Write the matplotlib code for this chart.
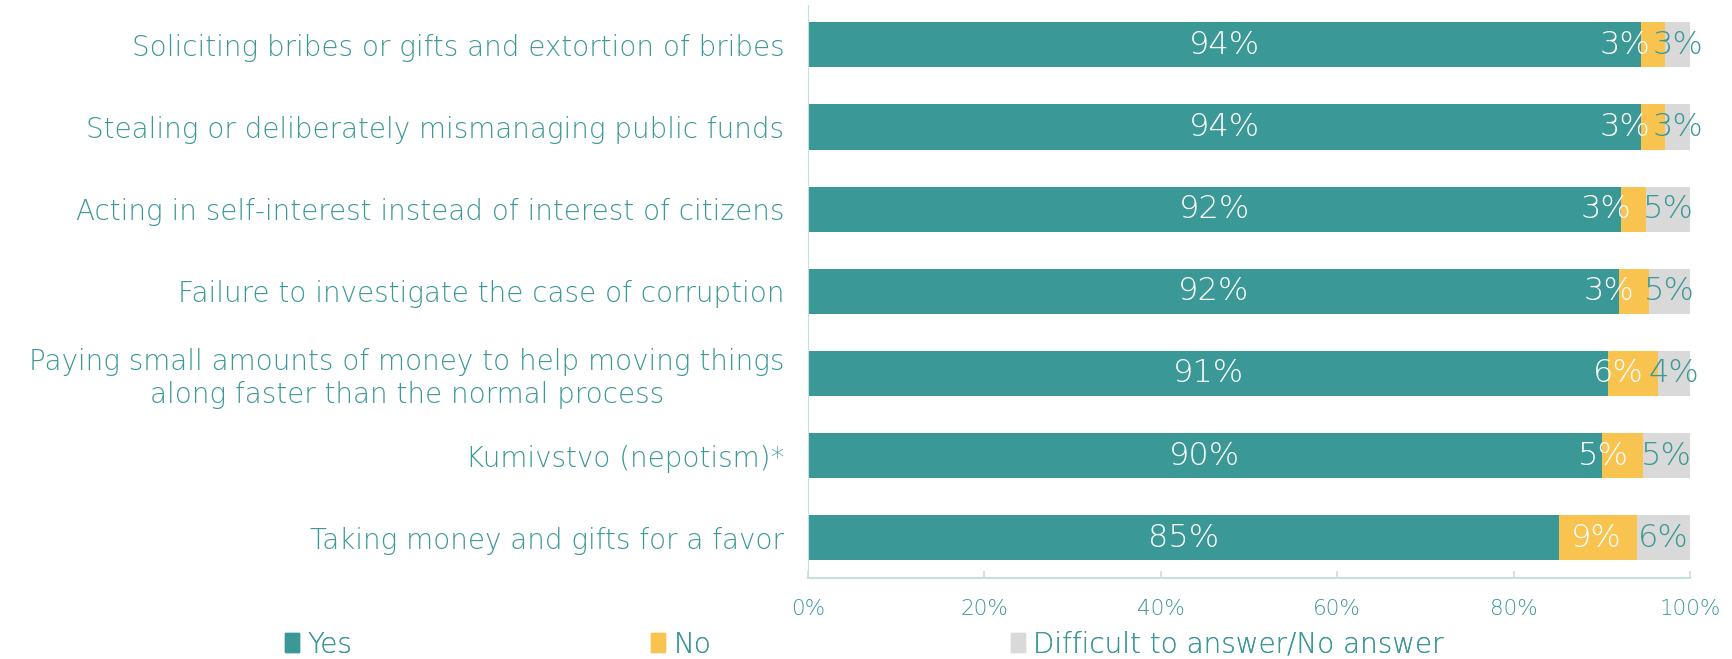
import numpy as np
import matplotlib
matplotlib.use("Agg")
import matplotlib.pyplot as plt
from matplotlib.patches import Patch

categories = [
    "Soliciting bribes or gifts and extortion of bribes",
    "Stealing or deliberately mismanaging public funds",
    "Acting in self-interest instead of interest of citizens",
    "Failure to investigate the case of corruption",
    "Paying small amounts of money to help moving things\nalong faster than the normal process",
    "Kumivstvo (nepotism)*",
    "Taking money and gifts for a favor",
]
yes = [94.4, 94.4, 92.2, 92.0, 90.7, 90.0, 85.1]
no = [2.8, 2.8, 2.8, 3.4, 5.7, 4.7, 8.9]
dk = [2.8, 2.8, 5.0, 4.6, 3.6, 5.3, 6.0]
series_names = ["Yes", "No", "Difficult to answer/No answer"]
xticks = [0, 20, 40, 60, 80, 100]

TEAL = "#3A9896"
YELLOW = "#F9C350"
GREY = "#D9D9D9"
AXIS = "#C3E0DF"

plt.rcParams['font.family'] = ['DejaVu Sans']

fig = plt.figure(figsize=(17.33, 6.59), dpi=100)
ax = fig.add_axes([0.4662, 0.1229, 0.5090, 0.8688])

y = np.arange(len(categories))
yes = np.array(yes); no = np.array(no); dk = np.array(dk)

ax.barh(y, yes, height=0.55, color=TEAL)
ax.barh(y, no, left=yes, height=0.55, color=YELLOW)
ax.barh(y, dk, left=yes + no, height=0.55, color=GREY)

for i in range(len(y)):
    ax.text(yes[i] / 2, y[i], "%d%%" % round(yes[i]), ha="center", va="center",
            color="white", fontsize=23, fontweight="light")
    ax.annotate("%d%%" % round(no[i]), (yes[i] + no[i], y[i]), xytext=(-15, 0),
                textcoords="offset pixels", ha="right", va="center",
                color="white", fontsize=23, fontweight="light")
    ax.text(yes[i] + no[i] + dk[i] / 2, y[i], "%d%%" % round(dk[i]), ha="center",
            va="center", color=TEAL, fontsize=23, fontweight="light")

ax.set_xlim(0, 100)
ax.set_ylim(6.49, -0.48)
ax.set_yticks(y)
ax.set_yticklabels(categories, fontsize=20, color=TEAL, fontweight="light")
for lbl in ax.get_yticklabels():
    lbl.set_multialignment("center")
ax.tick_params(axis="y", length=0, pad=17)
ax.set_xticks(xticks)
ax.set_xticklabels(["%d%%" % t for t in xticks], fontsize=15.5, color=TEAL, fontweight="light")
ax.tick_params(axis="x", direction="in", length=5, color=AXIS, width=1.2, pad=15)

for s in ["top", "right"]:
    ax.spines[s].set_visible(False)
ax.spines["left"].set_color(AXIS)
ax.spines["bottom"].set_color(AXIS)
ax.spines["bottom"].set_linewidth(1.5)

colors = [TEAL, YELLOW, GREY]
xs = [0.1645, 0.3757, 0.5834]
for name, c, x0 in zip(series_names, colors, xs):
    leg = fig.legend(handles=[Patch(color=c)], labels=[name], loc="center left",
                     bbox_to_anchor=(x0, 0.022), frameon=False, fontsize=20,
                     handlelength=0.5, handleheight=0.65, handletextpad=0.3,
                     borderpad=0, borderaxespad=0)
    for t in leg.get_texts():
        t.set_color(TEAL)
        t.set_fontweight("light")
    fig.add_artist(leg)

fig.savefig("out.png", dpi=100)
